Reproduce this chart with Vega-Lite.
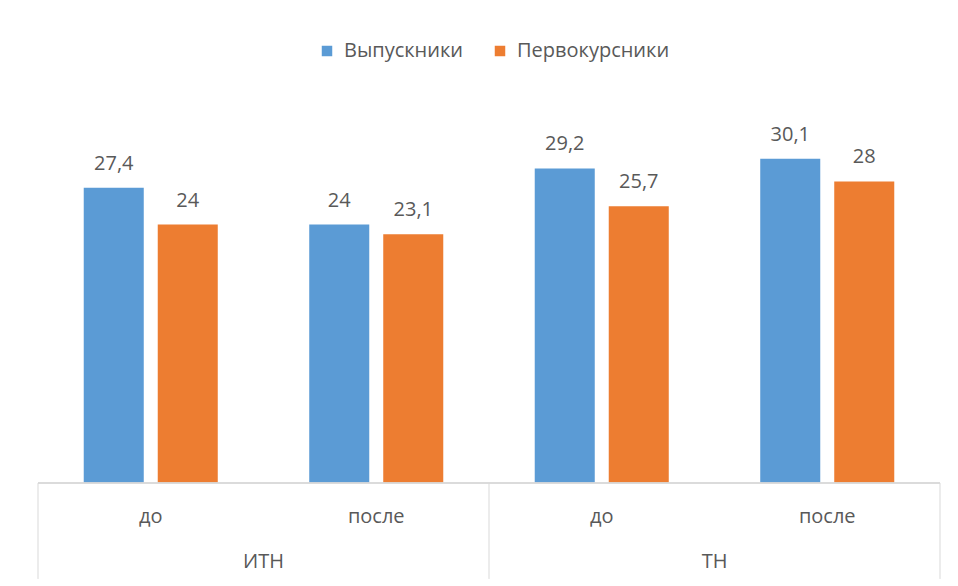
{
  "$schema": "https://vega.github.io/schema/vega-lite/v6.json",
  "width": 902,
  "height": 474,
  "autosize": {"type": "none"},
  "padding": {"left": 38, "top": 106, "right": 18, "bottom": 6},
  "background": "white",
  "config": {
    "view": {"stroke": null},
    "font": "Open Sans",
    "text": {"font": "Open Sans"}
  },
  "datasets": {
    "bars": [
      {"group": "ИТН", "period": "до", "cat": "ИТН|до", "series": "Выпускники", "value": 27.4, "label": "27,4"},
      {"group": "ИТН", "period": "до", "cat": "ИТН|до", "series": "Первокурсники", "value": 24, "label": "24"},
      {"group": "ИТН", "period": "после", "cat": "ИТН|после", "series": "Выпускники", "value": 24, "label": "24"},
      {"group": "ИТН", "period": "после", "cat": "ИТН|после", "series": "Первокурсники", "value": 23.1, "label": "23,1"},
      {"group": "ТН", "period": "до", "cat": "ТН|до", "series": "Выпускники", "value": 29.2, "label": "29,2"},
      {"group": "ТН", "period": "до", "cat": "ТН|до", "series": "Первокурсники", "value": 25.7, "label": "25,7"},
      {"group": "ТН", "period": "после", "cat": "ТН|после", "series": "Выпускники", "value": 30.1, "label": "30,1"},
      {"group": "ТН", "period": "после", "cat": "ТН|после", "series": "Первокурсники", "value": 28, "label": "28"}
    ],
    "cats": [
      {"cat": "ИТН|до", "period": "до"},
      {"cat": "ИТН|после", "period": "после"},
      {"cat": "ТН|до", "period": "до"},
      {"cat": "ТН|после", "period": "после"}
    ],
    "groups": [
      {"cat": "ИТН|после", "group": "ИТН"},
      {"cat": "ТН|после", "group": "ТН"}
    ],
    "seps": [
      {"cat": "ИТН|до"},
      {"cat": "ТН|до"}
    ],
    "endsep": [
      {"cat": "ТН|после"}
    ]
  },
  "encoding": {
    "x": {
      "field": "cat",
      "type": "nominal",
      "sort": ["ИТН|до", "ИТН|после", "ТН|до", "ТН|после"],
      "scale": {"domain": ["ИТН|до", "ИТН|после", "ТН|до", "ТН|после"], "paddingInner": 0, "paddingOuter": 0},
      "axis": null
    }
  },
  "layer": [
    {
      "data": {"name": "bars"},
      "mark": {"type": "bar"},
      "encoding": {
        "xOffset": {
          "field": "series",
          "type": "nominal",
          "scale": {"domain": ["Выпускники", "Первокурсники"], "paddingInner": 0.189, "paddingOuter": 0.618}
        },
        "y": {
          "field": "value",
          "type": "quantitative",
          "scale": {"domain": [-9, 35], "nice": false, "zero": false},
          "axis": null
        },
        "y2": {"datum": 0},
        "color": {
          "field": "series",
          "type": "nominal",
          "scale": {"domain": ["Выпускники", "Первокурсники"], "range": ["#5b9bd5", "#ed7d31"]},
          "legend": {
            "title": null,
            "orient": "none",
            "direction": "horizontal",
            "legendX": 279,
            "legendY": -65,
            "symbolType": "square",
            "symbolSize": 110,
            "symbolStrokeWidth": 0,
            "labelFont": "Open Sans",
            "labelFontSize": 20,
            "labelColor": "#595959",
            "columnPadding": 26,
            "labelOffset": 7
          }
        }
      }
    },
    {
      "data": {"name": "bars"},
      "mark": {"type": "text", "baseline": "alphabetic", "dy": -18, "fontSize": 20, "color": "#595959"},
      "encoding": {
        "xOffset": {
          "field": "series",
          "type": "nominal",
          "scale": {"domain": ["Выпускники", "Первокурсники"], "paddingInner": 0.189, "paddingOuter": 0.618}
        },
        "y": {"field": "value", "type": "quantitative"},
        "text": {"field": "label"}
      }
    },
    {
      "data": {"name": "cats"},
      "mark": {"type": "rule", "color": "#d9d9d9", "strokeWidth": 1},
      "encoding": {
        "x": null,
        "y": {"datum": 0}
      }
    },
    {
      "data": {"name": "seps"},
      "mark": {"type": "rule", "color": "#d9d9d9", "strokeWidth": 1},
      "encoding": {
        "x": {"field": "cat", "type": "nominal", "bandPosition": 0},
        "y": {"datum": 0},
        "y2": {"datum": -8.9}
      }
    },
    {
      "data": {"name": "endsep"},
      "mark": {"type": "rule", "color": "#d9d9d9", "strokeWidth": 1},
      "encoding": {
        "x": {"field": "cat", "type": "nominal", "bandPosition": 1},
        "y": {"datum": 0},
        "y2": {"datum": -8.9}
      }
    },
    {
      "data": {"name": "cats"},
      "mark": {"type": "text", "baseline": "middle", "fontSize": 20, "color": "#595959"},
      "encoding": {
        "y": {"datum": -3.15},
        "text": {"field": "period"}
      }
    },
    {
      "data": {"name": "groups"},
      "mark": {"type": "text", "baseline": "middle", "fontSize": 20, "color": "#595959"},
      "encoding": {
        "x": {"field": "cat", "type": "nominal", "bandPosition": 0},
        "y": {"datum": -7.35},
        "text": {"field": "group"}
      }
    }
  ]
}
